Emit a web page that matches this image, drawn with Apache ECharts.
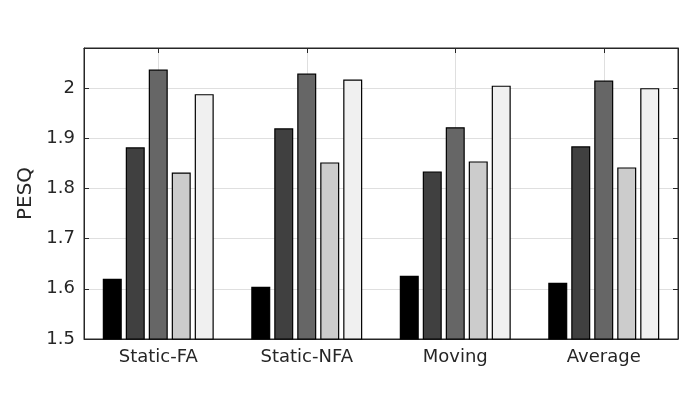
<!DOCTYPE html>
<html>
<head>
<meta charset="utf-8">
<script src="https://cdn.jsdelivr.net/npm/echarts@6/dist/echarts.min.js"></script>
<style>html,body{margin:0;padding:0;background:#fff;}#c{width:700px;height:400px;}</style>
</head>
<body>
<div id="c"></div>
<script>
const categories = ['Static-FA', 'Static-NFA', 'Moving', 'Average'];
const series1 = [1.620, 1.604, 1.626, 1.612];
const series2 = [1.882, 1.920, 1.834, 1.884];
const series3 = [2.037, 2.029, 1.922, 2.015];
const series4 = [1.832, 1.852, 1.854, 1.842];
const series5 = [1.988, 2.017, 2.005, 2.000];
const seriesData = [series1, series2, series3, series4, series5];
const seriesColors = ['#000000', '#404040', '#666666', '#cccccc', '#f0f0f0'];
const yTicks = [1.5, 1.6, 1.7, 1.8, 1.9, 2];

const chart = echarts.init(document.getElementById('c'), null, {renderer: 'canvas'});
const font = 'DejaVu Sans';
const option = {
  animation: false,
  backgroundColor: '#ffffff',
  grid: {left: 84, right: 22, top: 48, bottom: 61, show: true, borderColor: '#262626', borderWidth: 1},
  xAxis: [{
    type: 'category', data: categories, position: 'bottom',
    axisLine: {show: true, lineStyle: {color: '#262626', width: 1}},
    axisTick: {show: true, inside: true, alignWithLabel: true, length: 5, lineStyle: {color: '#262626'}},
    axisLabel: {color: '#262626', fontFamily: font, fontSize: 18, margin: 9},
    splitLine: {show: true, alignWithLabel: true, interval: 0, lineStyle: {color: '#dfdfdf', width: 1}}
  }, {
    type: 'category', data: categories, position: 'top',
    axisLine: {show: true, lineStyle: {color: '#262626', width: 1}},
    axisTick: {show: true, inside: true, alignWithLabel: true, length: 5, lineStyle: {color: '#262626'}},
    axisLabel: {show: false}, splitLine: {show: false}
  }],
  yAxis: [{
    type: 'value', min: 1.5, max: 2.08, interval: 0.1,
    name: 'PESQ', nameLocation: 'middle', nameGap: 42,
    nameTextStyle: {color: '#262626', fontFamily: font, fontSize: 20},
    axisLine: {show: true, lineStyle: {color: '#262626', width: 1}},
    axisTick: {show: true, inside: true, length: 5, lineStyle: {color: '#262626'}},
    axisLabel: {color: '#262626', fontFamily: font, fontSize: 18, margin: 9,
      formatter: function (v) { const r = Math.round(v * 10) / 10; return yTicks.indexOf(r) >= 0 ? String(r) : ''; },
      showMaxLabel: false},
    splitLine: {show: true, lineStyle: {color: '#dfdfdf', width: 1}}
  }, {
    type: 'value', min: 1.5, max: 2.08, interval: 0.1, position: 'right',
    axisLine: {show: true, lineStyle: {color: '#262626', width: 1}},
    axisTick: {show: true, inside: true, length: 5, lineStyle: {color: '#262626'}},
    axisLabel: {show: false}, splitLine: {show: false}
  }],
  series: seriesData.map(function (d, i) {
    return {
      type: 'bar', data: d, xAxisIndex: 0, yAxisIndex: 0,
      barWidth: 19, barGap: '21%',
      itemStyle: {color: seriesColors[i], borderColor: '#000000', borderWidth: 1.2}
    };
  })
};
chart.setOption(option);
</script>
</body>
</html>
